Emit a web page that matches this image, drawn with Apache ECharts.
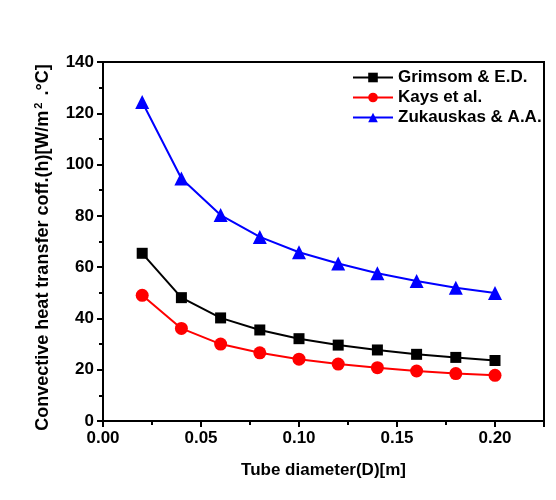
<!DOCTYPE html>
<html><head><meta charset="utf-8">
<script src="https://cdn.jsdelivr.net/npm/echarts@6/dist/echarts.min.js"></script>
<style>html,body{margin:0;padding:0;background:#fff}#c{width:556px;height:500px}</style>
</head><body><div id="c"></div>
<script>
const diameters = [0.02,0.04,0.06,0.08,0.10,0.12,0.14,0.16,0.18,0.20];
const grimsom = [65.4,48.1,40.2,35.5,32.1,29.6,27.7,26.0,24.8,23.6];
const kays = [49.0,36.1,30.0,26.6,24.1,22.2,20.8,19.5,18.5,17.8];
const zukauskas = [124.4,94.6,80.3,71.8,65.8,61.4,57.6,54.6,52.0,49.9];
const seriesNames = ['Grimsom & E.D.','Kays et al.','Zukauskas & A.A.'];
const colors = ['#000000','#ff0000','#0000ff'];
const symbols = ['rect','circle','triangle'];
const symbolSizes = [11,13,14];
const font = 'Arial, "Liberation Sans", sans-serif';
const all = [grimsom,kays,zukauskas];
const chart = echarts.init(document.getElementById('c'));
chart.setOption({
  animation:false,
  backgroundColor:'#fff',
  grid:{left:103,right:12,top:62,bottom:79,show:true,borderColor:'#000',borderWidth:2},
  legend:{orient:'vertical',left:347,top:64,itemGap:3,itemWidth:40,itemHeight:12,
    textStyle:{fontFamily:font,fontWeight:'bold',fontSize:17,color:'#000'},
    data:seriesNames},
  xAxis:{type:'value',min:0,max:0.225,interval:0.05,
    name:'Tube diameter(D)[m]',nameLocation:'middle',nameGap:41,
    nameTextStyle:{fontFamily:font,fontWeight:'bold',fontSize:17,color:'#000'},
    axisLine:{show:true,onZero:false,lineStyle:{color:'#000',width:2}},
    axisTick:{show:true,length:6,lineStyle:{width:2,color:'#000'}},
    minorTick:{show:true,splitNumber:2,length:4,lineStyle:{width:2,color:'#000'}},
    splitLine:{show:false},
    axisLabel:{fontFamily:font,fontWeight:'bold',fontSize:17,color:'#000',margin:9,
      formatter:v=>v.toFixed(2), showMaxLabel:false}},
  yAxis:{type:'value',min:0,max:140,interval:20,
    name:'Convective heat transfer coff.(h)[W/m{sup|2} .\u00B0C]',nameLocation:'middle',nameGap:50,
    nameTextStyle:{fontFamily:font,fontWeight:'bold',fontSize:18,color:'#000',padding:[0,12,0,0],
      rich:{sup:{fontFamily:font,fontWeight:'bold',fontSize:11,color:'#000',padding:[0,2,9,2]}}},
    axisLine:{show:true,onZero:false,lineStyle:{color:'#000',width:2}},
    axisTick:{show:true,length:6,lineStyle:{width:2,color:'#000'}},
    minorTick:{show:true,splitNumber:2,length:4,lineStyle:{width:2,color:'#000'}},
    splitLine:{show:false},
    axisLabel:{fontFamily:font,fontWeight:'bold',fontSize:17,color:'#000',margin:9}},
  series: all.map((arr,i)=>({
    name:seriesNames[i],type:'line',
    data:diameters.map((d,j)=>[d,arr[j]]),
    symbol:symbols[i],symbolSize:symbolSizes[i],showAllSymbol:true,
    itemStyle:{color:colors[i]},
    lineStyle:{color:colors[i],width:2}
  }))
});
</script></body></html>
